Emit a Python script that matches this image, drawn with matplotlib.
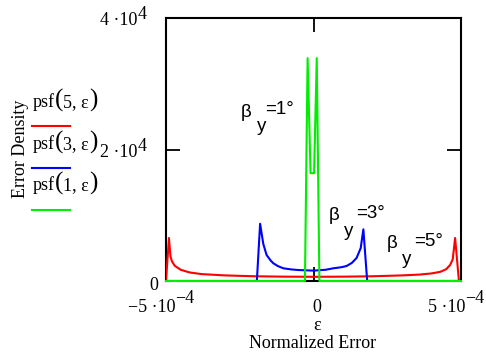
import numpy as np
import matplotlib.pyplot as plt
from matplotlib.lines import Line2D

plt.rcParams['font.family'] = ['Liberation Serif', 'DejaVu Serif']

# psf(5, eps)  -- x in units of 1e-4
red_x = [-5.0, -4.9, -4.85, -4.8, -4.7, -4.5, -4.2, -3.8, -3.0, -2.0, -1.0, 0.0,
         1.0, 2.0, 3.0, 3.6, 4.0, 4.3, 4.5, 4.63, 4.72, 4.8, 4.93, 5.0]
red_y = [0, 6540, 3800, 3000, 2300, 1700, 1300, 1050, 850, 720, 660, 640,
         660, 720, 850, 980, 1150, 1400, 1800, 2430, 3300, 6540, 0, 0]

# psf(3, eps)
blue_x = [-5.0, -1.92, -1.81, -1.70, -1.59, -1.45, -1.36, -1.20, -1.02, -0.75, -0.52,
          0.0, 0.40, 0.67, 0.95, 1.12, 1.30, 1.46, 1.60, 1.69, 1.82, 5.0]
blue_y = [0, 0, 8700, 5600, 3950, 3100, 2690, 2250, 1930, 1760, 1670,
          1580, 1700, 1930, 2100, 2280, 2750, 3500, 5000, 7860, 0, 0]

# psf(1, eps)
green_x = [-5.0, -0.29, -0.20, -0.10, 0.02, 0.11, 0.20, 5.0]
green_y = [0, 0, 33900, 16400, 16400, 33900, 0, 0]

W, H = 486, 356
fig = plt.figure(figsize=(W / 100, H / 100), dpi=100)
ax = fig.add_axes([166 / W, 1 - 281 / H, 295 / W, 263 / H])

sc = 1e-4
ax.plot(np.array(red_x) * sc, red_y, color='#ff0000', lw=1.5, zorder=3)
ax.plot(np.array(blue_x) * sc, blue_y, color='#0000ff', lw=1.5, zorder=3)
ax.plot(np.array(green_x) * sc, green_y, color='#00ee00', lw=1.5, zorder=3,
        clip_on=False)

ax.set_xlim(-5e-4, 5e-4)
ax.set_ylim(0, 4e4)
ax.set_xticks([0])
ax.set_yticks([2e4])
ax.tick_params(direction='in', length=10, width=1.3, top=True, right=True,
               labelbottom=False, labelleft=False)
for s in ax.spines.values():
    s.set_linewidth(1.5)


def px(x, y):
    return x / W, 1 - y / H


renderer = fig.canvas.get_renderer()


def pieces(x, y, parts):
    # place text pieces one after another, starting at pixel x on baseline y
    for s, size in parts:
        t = fig.text(*px(x, y), s, ha='left', va='baseline', fontsize=size)
        x = t.get_window_extent(renderer).x1


fs = 13
# tick labels
fig.text(*px(137, 25), '4 \u00b710', ha='right', va='baseline', fontsize=fs)
fig.text(*px(138, 19), '4', ha='left', va='baseline', fontsize=fs)
fig.text(*px(137, 157), '2 \u00b710', ha='right', va='baseline', fontsize=fs)
fig.text(*px(138, 151), '4', ha='left', va='baseline', fontsize=fs)
fig.text(*px(158, 290), '0', ha='right', va='baseline', fontsize=fs)

fig.text(*px(175, 312), '\u22125 \u00b710', ha='right', va='baseline', fontsize=fs)
fig.text(*px(175, 303), '\u22124', ha='left', va='baseline', fontsize=fs)
fig.text(*px(317, 312), '0', ha='center', va='baseline', fontsize=fs)
fig.text(*px(465, 312), '5 \u00b710', ha='right', va='baseline', fontsize=fs)
fig.text(*px(465, 303), '\u22124', ha='left', va='baseline', fontsize=fs)

fig.text(*px(317, 330), '\u03b5', ha='center', va='baseline', fontsize=fs)
fig.text(*px(313, 348), 'Normalized Error', ha='center', va='baseline', fontsize=fs)

# legend
fig.text(*px(21, 149), 'Error Density', rotation=90, ha='center', va='center', fontsize=fs)
nums = ['5', '3', '1']
colors = ['#ff0000', '#0000ff', '#00ee00']
for n, c, ty, ly in zip(nums, colors, [107, 149, 190], [126, 168, 210]):
    pieces(33, ty, [('psf', fs), ('(', 18), (n + ', \u03b5', fs), (')', 18)])
    x0, y0 = px(32, ly)
    x1, _ = px(70, ly)
    fig.add_artist(Line2D([x0, x1], [y0, y0], color=c, lw=1.5))

# beta annotations
sans = ['Liberation Sans', 'DejaVu Sans']
fa = 13.5
for (bx, by), (yx, yy), (ex, ey), t in [((246, 113), (262, 127), (279, 110), '=1\u00b0'),
                                        ((334, 215), (349, 232), (370, 213), '=3\u00b0'),
                                        ((392, 243), (407, 259), (429, 242), '=5\u00b0')]:
    fig.text(*px(bx, by), '\u03b2', ha='center', va='center', fontsize=fa, family=sans)
    fig.text(*px(yx, yy), 'y', ha='center', va='center', fontsize=fa, family=sans)
    fig.text(*px(ex, ey), t, ha='center', va='center', fontsize=fa, family=sans)

fig.savefig('out.png', dpi=100)
